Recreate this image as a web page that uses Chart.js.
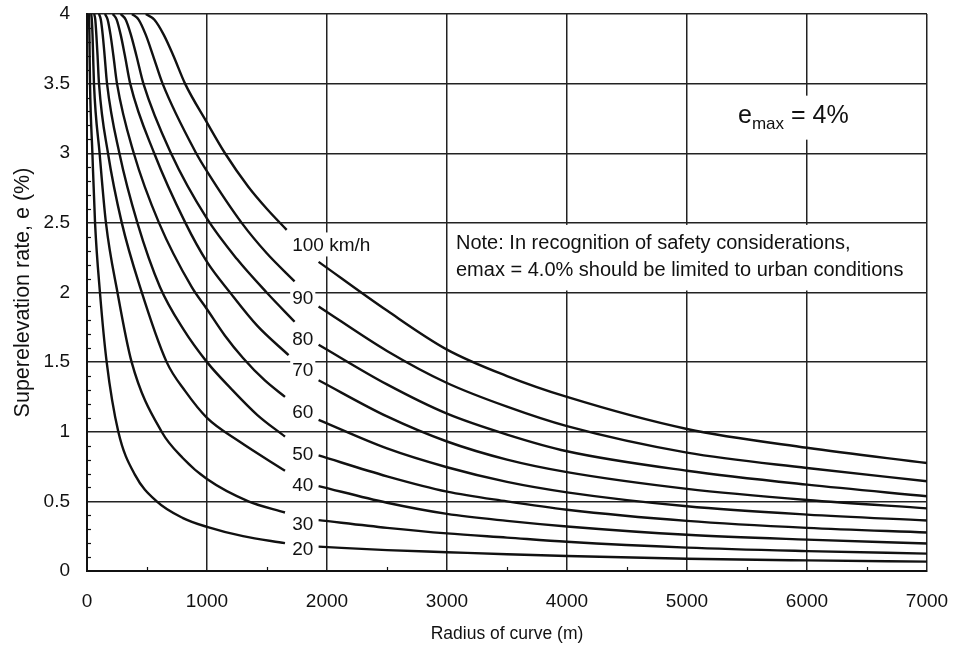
<!DOCTYPE html>
<html>
<head>
<meta charset="utf-8">
<script src="https://cdn.jsdelivr.net/npm/chart.js@4.4.1/dist/chart.umd.min.js"></script>
<style>
  html, body { margin: 0; padding: 0; background: #fff; }
  #wrap { width: 956px; height: 651px; }
</style>
</head>
<body>
<div id="wrap"><canvas id="chart" width="956" height="651"></canvas></div>
<script>
// design speeds (km/h), one curve each
const speeds = [20, 30, 40, 50, 60, 70, 80, 90, 100];

// axis ticks
const xTicks = [0, 1000, 2000, 3000, 4000, 5000, 6000, 7000];
const yTicks = [0, 0.5, 1, 1.5, 2, 2.5, 3, 3.5, 4];

// left part of each curve, [radius m, e %], up to the label column
const left20 = [[15, 4], [17, 3.96], [20, 3.85], [22, 3.7], [25, 3.5], [45, 3.0], [67, 2.5], [108, 2.0], [164, 1.5], [261, 1.0], [400, 0.69], [581, 0.5], [800, 0.38], [1000, 0.317], [1300, 0.25], [1650, 0.2]];
const left30 = [[35, 4], [40, 3.96], [46, 3.85], [51, 3.7], [58, 3.5], [105, 3.0], [158, 2.5], [254, 2.0], [372, 1.5], [622, 1.0], [800, 0.81], [1000, 0.66], [1345, 0.5], [1650, 0.42]];
const left40 = [[60, 4], [69, 3.96], [78, 3.85], [88, 3.7], [100, 3.5], [175, 3.0], [290, 2.5], [442, 2.04], [664, 1.5], [820, 1.29], [1000, 1.1], [1270, 0.93], [1650, 0.72]];
const left50 = [[100, 4], [115, 3.96], [131, 3.85], [147, 3.7], [167, 3.5], [270, 3.0], [420, 2.5], [608, 2.04], [800, 1.74], [1000, 1.5], [1200, 1.31], [1420, 1.12], [1650, 0.965]];
const left60 = [[150, 4], [172, 3.96], [196, 3.85], [220, 3.7], [250, 3.5], [390, 3.0], [600, 2.5], [872, 2.04], [1000, 1.88], [1150, 1.69], [1300, 1.53], [1480, 1.37], [1650, 1.25]];
const left70 = [[215, 4], [247, 3.96], [281, 3.85], [316, 3.7], [360, 3.5], [560, 3.0], [820, 2.5], [1000, 2.22], [1192, 2.0], [1420, 1.76], [1680, 1.55]];
const left80 = [[280, 4], [322, 3.96], [366, 3.85], [412, 3.7], [470, 3.5], [700, 3.0], [1000, 2.53], [1250, 2.24], [1497, 2.0], [1730, 1.79]];
const left90 = [[375, 4], [430, 3.96], [490, 3.85], [551, 3.7], [630, 3.5], [910, 3.0], [1000, 2.87], [1289, 2.5], [1500, 2.28], [1730, 2.08]];
const left100 = [[490, 4], [560, 3.96], [640, 3.85], [720, 3.7], [817, 3.5], [1000, 3.22], [1150, 3.0], [1344, 2.76], [1500, 2.6], [1664, 2.45]];

// right part of each curve: e (%) at these radii
const rightRadius = [1930, 2500, 3000, 3500, 4000, 5000, 6000, 7000];
const right20 = [0.175, 0.15, 0.135, 0.12, 0.108, 0.088, 0.076, 0.067];
const right30 = [0.365, 0.31, 0.27, 0.24, 0.21, 0.168, 0.143, 0.125];
const right40 = [0.61, 0.49, 0.41, 0.36, 0.32, 0.26, 0.225, 0.198];
const right50 = [0.83, 0.68, 0.57, 0.5, 0.44, 0.36, 0.31, 0.277];
const right60 = [1.085, 0.88, 0.745, 0.64, 0.565, 0.465, 0.405, 0.363];
const right70 = [1.37, 1.11, 0.93, 0.8, 0.71, 0.59, 0.51, 0.45];
const right80 = [1.625, 1.34, 1.13, 0.98, 0.86, 0.72, 0.62, 0.537];
const right90 = [1.9, 1.58, 1.35, 1.18, 1.04, 0.85, 0.74, 0.645];
const right100 = [2.22, 1.87, 1.59, 1.4, 1.25, 1.02, 0.885, 0.775];

const leftParts = [left20, left30, left40, left50, left60, left70, left80, left90, left100];
const rightParts = [right20, right30, right40, right50, right60, right70, right80, right90, right100];

const FONT = '"Liberation Sans", Arial, Helvetica, sans-serif';
const INK = '#111';

function lineSet(label, points) {
    return {
        label: label,
        data: points,
        showLine: true,
        borderColor: INK,
        borderWidth: 2.4,
        pointRadius: 0,
        pointHoverRadius: 0,
        cubicInterpolationMode: 'monotone',
        fill: false
    };
}

const datasets = [];
speeds.forEach((v, i) => {
    datasets.push(lineSet(v + ' left', leftParts[i].map(p => ({ x: p[0], y: p[1] }))));
    datasets.push(lineSet(v + ' right', rightRadius.map((r, k) => ({ x: r, y: rightParts[i][k] }))));
});

// text placed in the label column (value of its centre line)
const labelSpots = [
    { t: '20', e: 0.161 }, { t: '30', e: 0.341 }, { t: '40', e: 0.617 },
    { t: '50', e: 0.845 }, { t: '60', e: 1.145 }, { t: '70', e: 1.445 },
    { t: '80', e: 1.67 }, { t: '90', e: 1.96 }, { t: '100 km/h', e: 2.345 }
];

const overlay = {
    id: 'overlay',
    afterDatasetsDraw(chart) {
        const { ctx, scales: { x, y } } = chart;
        ctx.save();

        // small inward ticks
        ctx.strokeStyle = INK;
        ctx.lineWidth = 1.2;
        for (let k = 1; k < 40; k++) {
            if (k % 5 === 0) continue;
            const py = Math.round(y.getPixelForValue(k / 10)) + 0.5;
            ctx.beginPath();
            ctx.moveTo(x.left, py);
            ctx.lineTo(x.left + 4, py);
            ctx.stroke();
        }
        for (let v = 500; v < 7000; v += 1000) {
            const px = Math.round(x.getPixelForValue(v)) + 0.5;
            ctx.beginPath();
            ctx.moveTo(px, y.bottom);
            ctx.lineTo(px, y.bottom - 4);
            ctx.stroke();
        }

        // speed labels with white backing
        ctx.font = '19px ' + FONT;
        ctx.textBaseline = 'middle';
        ctx.textAlign = 'left';
        const lx = x.getPixelForValue(1710);
        labelSpots.forEach(s => {
            const py = y.getPixelForValue(s.e);
            const w = ctx.measureText(s.t).width;
            ctx.fillStyle = '#fff';
            ctx.fillRect(lx - 2, py - 12, w + 4, 24);
            ctx.fillStyle = INK;
            ctx.fillText(s.t, lx, py + 1);
        });

        // note box
        const nx0 = x.getPixelForValue(3000) + 2;
        const nx1 = x.getPixelForValue(7000) - 2;
        const ny0 = y.getPixelForValue(2.5) + 2;
        const ny1 = y.getPixelForValue(2.0) - 2;
        ctx.fillStyle = '#fff';
        ctx.fillRect(nx0, ny0, nx1 - nx0, ny1 - ny0);
        ctx.fillStyle = INK;
        ctx.font = '20px ' + FONT;
        ctx.fillText('Note: In recognition of safety considerations,', nx0 + 7, ny0 + 19);
        ctx.fillText('emax = 4.0% should be limited to urban conditions', nx0 + 7, ny0 + 46);

        // e_max label
        const ex = x.getPixelForValue(5425);
        const ey = y.getPixelForValue(3.27);
        ctx.font = '25px ' + FONT;
        const we = ctx.measureText('e').width;
        ctx.font = '17px ' + FONT;
        const wm = ctx.measureText('max').width;
        ctx.font = '25px ' + FONT;
        const wr = ctx.measureText(' = 4%').width;
        ctx.fillStyle = '#fff';
        ctx.fillRect(ex - 4, ey - 20, we + wm + wr + 8, 44);
        ctx.fillStyle = INK;
        ctx.fillText('e', ex, ey);
        ctx.font = '17px ' + FONT;
        ctx.fillText('max', ex + we, ey + 9);
        ctx.font = '25px ' + FONT;
        ctx.fillText(' = 4%', ex + we + wm, ey);

        ctx.restore();
    }
};

new Chart(document.getElementById('chart'), {
    type: 'scatter',
    data: { datasets: datasets },
    options: {
        responsive: false,
        animation: false,
        devicePixelRatio: 1,
        layout: { padding: { top: 14, right: 29, bottom: 0, left: 0 } },
        plugins: {
            legend: { display: false },
            tooltip: { enabled: false }
        },
        scales: {
            x: {
                type: 'linear',
                min: 0,
                max: 7000,
                afterBuildTicks: s => { s.ticks = xTicks.map(v => ({ value: v })); },
                afterFit: s => { s.height = 80; s.paddingLeft = 0; s.paddingRight = 0; },
                grid: { color: '#222', lineWidth: 1.5, drawTicks: false },
                border: { color: INK, width: 2 },
                ticks: {
                    color: INK, padding: 19, maxRotation: 0,
                    font: { family: FONT, size: 19 },
                    callback: v => String(v)
                },
                title: {
                    display: true,
                    text: 'Radius of curve (m)',
                    color: INK,
                    font: { family: FONT, size: 17.5 },
                    padding: { top: 0, bottom: 6 }
                }
            },
            y: {
                type: 'linear',
                min: 0,
                max: 4,
                afterBuildTicks: s => { s.ticks = yTicks.map(v => ({ value: v })); },
                afterFit: s => { s.width = 87; s.paddingTop = 0; s.paddingBottom = 0; },
                grid: { color: '#222', lineWidth: 1.5, drawTicks: false },
                border: { color: INK, width: 2 },
                ticks: {
                    color: INK, padding: 17,
                    font: { family: FONT, size: 19 },
                    callback: v => String(v)
                },
                title: {
                    display: true,
                    text: 'Superelevation rate, e (%)',
                    color: INK,
                    font: { family: FONT, size: 21.5 },
                    padding: { top: 10, bottom: 0 }
                }
            }
        }
    },
    plugins: [overlay]
});
</script>
</body>
</html>
